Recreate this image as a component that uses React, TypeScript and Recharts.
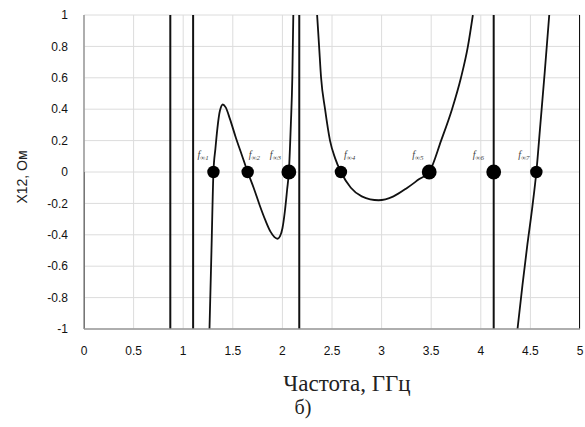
import React from "react";
import { ComposedChart, Line, Scatter, XAxis, YAxis, CartesianGrid } from "recharts";

// ---- data ----
const X_TICKS = [0, 0.5, 1, 1.5, 2, 2.5, 3, 3.5, 4, 4.5, 5];
const Y_TICKS = [-1, -0.8, -0.6, -0.4, -0.2, 0, 0.2, 0.4, 0.6, 0.8, 1];

const CURVE1_X = [1.265, 1.285, 1.305, 1.325, 1.345, 1.37, 1.4, 1.43, 1.47, 1.53, 1.59, 1.65, 1.71, 1.77, 1.83, 1.88, 1.92, 1.95, 1.975, 2.0, 2.025, 2.048, 2.065, 2.085, 2.1, 2.11];
const CURVE1_Y = [-1, -0.5, 0, 0.15, 0.28, 0.39, 0.43, 0.41, 0.34, 0.22, 0.11, 0, -0.1, -0.21, -0.31, -0.38, -0.415, -0.425, -0.41, -0.36, -0.25, -0.11, 0, 0.3, 0.6, 1];

const CURVE2_X = [2.35, 2.37, 2.39, 2.43, 2.48, 2.53, 2.59, 2.69, 2.8, 2.97, 3.12, 3.26, 3.38, 3.48, 3.6, 3.71, 3.8, 3.87, 3.92];
const CURVE2_Y = [1, 0.8, 0.6, 0.4, 0.2, 0.09, 0, -0.1, -0.155, -0.18, -0.155, -0.1, -0.045, 0, 0.2, 0.4, 0.6, 0.8, 1];

const CURVE3_X = [4.37, 4.42, 4.47, 4.52, 4.56, 4.6, 4.645, 4.69];
const CURVE3_Y = [-1, -0.72, -0.46, -0.22, 0, 0.3, 0.64, 1];

// vertical pole lines: x, from y, to y
const POLE_X = [0, 0.87, 1.1, 2.17, 4.13, 5];
const POLE_Y0 = [0, -1, -1, -1, -1, -1];
const POLE_Y1 = [-1, 1, 1, 1, 1, 1];

const MARKER_X = [1.305, 1.65, 2.065, 2.59, 3.48, 4.13, 4.56];
const MARKER_Y = [0, 0, 0, 0, 0, 0, 0];
const MARKER_LABELS = ["∞1", "∞2", "∞3", "∞4", "∞5", "∞6", "∞7"];

// ---- style (not data) ----
const MARKER_R = [6.2, 6.2, 7.4, 6.2, 7.4, 7.4, 6.2];
const LABEL_DX = [-16, 1, -19, 3, -17, -21, -18];

const zip = (xs: number[], ys: number[]) => xs.map((x, i) => ({ x, y: ys[i] }));
const curve1 = zip(CURVE1_X, CURVE1_Y);
const curve2 = zip(CURVE2_X, CURVE2_Y);
const curve3 = zip(CURVE3_X, CURVE3_Y);
const poles = POLE_X.map((x, i) => [
  { x, y: POLE_Y0[i] },
  { x, y: POLE_Y1[i] },
]);
const markers = MARKER_X.map((x, i) => ({ x, y: MARKER_Y[i], id: i, label: MARKER_LABELS[i] }));

const renderMarker = (props: any) => {
  const { cx, cy, payload } = props;
  const i = payload.id;
  return (
    <g>
      <circle cx={cx} cy={cy} r={MARKER_R[i]} fill="#000" />
      <text
        x={cx + LABEL_DX[i]}
        y={cy - 14}
        fontFamily="'Liberation Serif', 'DejaVu Serif', serif"
        fontStyle="italic"
        fontSize={10}
        fill="#444"
      >
        f
        <tspan fontSize={7} dy={1.5}>
          {payload.label}
        </tspan>
      </text>
    </g>
  );
};

const tickFont = { fontFamily: "'Liberation Sans', Arial, sans-serif", fontSize: 12, fill: "#111" };

export default function App() {
  return (
    <div style={{ position: "absolute", left: 0, top: 0, width: 585, height: 427, background: "#fff" }}>
      <ComposedChart width={585} height={427} margin={{ top: 15, right: 5, bottom: 68, left: 0 }}>
        <CartesianGrid stroke="#dcdcdc" strokeWidth={1} />
        <XAxis
          type="number"
          dataKey="x"
          domain={[0, 5]}
          ticks={X_TICKS}
          allowDataOverflow
          height={30}
          tickSize={0}
          tickMargin={17}
          axisLine={{ stroke: "#999", strokeWidth: 1.5 }}
          tick={tickFont}
          label={{
            content: () => (
              <g>
                <text
                  x={347}
                  y={383}
                  textAnchor="middle"
                  dominantBaseline="central"
                  fontFamily="'Liberation Serif', 'Times New Roman', serif"
                  fontSize={23}
                  fill="#222"
                >
                  Частота, ГГц
                </text>
                <text
                  x={303}
                  y={407}
                  textAnchor="middle"
                  dominantBaseline="central"
                  fontFamily="'Liberation Serif', 'Times New Roman', serif"
                  fontSize={20}
                  fill="#222"
                >
                  б)
                </text>
              </g>
            ),
          }}
        />
        <YAxis
          type="number"
          dataKey="y"
          domain={[-1, 1]}
          ticks={Y_TICKS}
          allowDataOverflow
          width={84}
          tickSize={0}
          tickMargin={16}
          axisLine={{ stroke: "#999", strokeWidth: 1.5 }}
          tick={tickFont}
          label={{
            content: () => (
              <text
                x={22}
                y={177}
                transform="rotate(-90 22 177)"
                textAnchor="middle"
                dominantBaseline="central"
                fontFamily="'Liberation Sans', Arial, sans-serif"
                fontSize={14}
                fill="#222"
              >
                X12, Ом
              </text>
            ),
          }}
        />
        {poles.map((d, i) => (
          <Line
            key={"p" + i}
            data={d}
            dataKey="y"
            type="linear"
            stroke="#111"
            strokeWidth={2}
            dot={false}
            isAnimationActive={false}
          />
        ))}
        {[curve1, curve2, curve3].map((d, i) => (
          <Line
            key={"c" + i}
            data={d}
            dataKey="y"
            type="monotone"
            stroke="#111"
            strokeWidth={1.8}
            dot={false}
            isAnimationActive={false}
          />
        ))}
        <Scatter data={markers} dataKey="y" shape={renderMarker} isAnimationActive={false} />
      </ComposedChart>
    </div>
  );
}
